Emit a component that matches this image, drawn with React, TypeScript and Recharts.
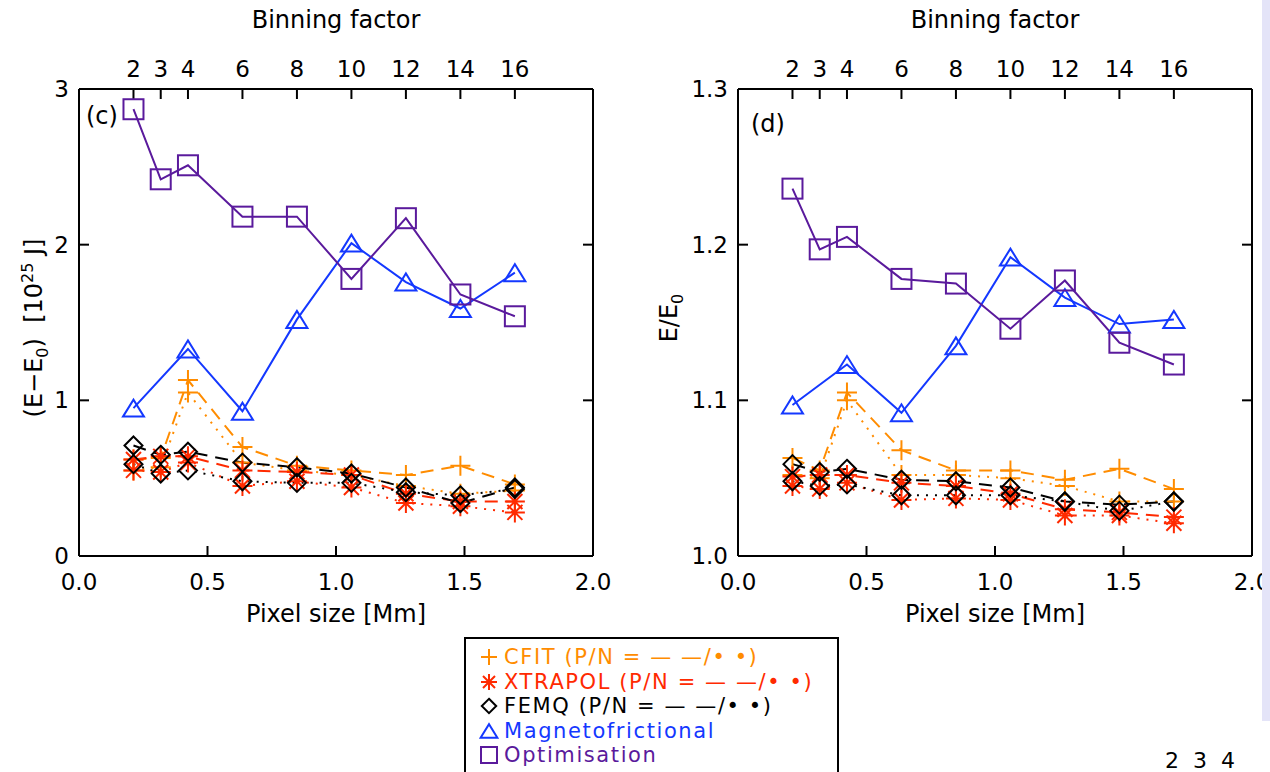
import React from 'react';
import { LineChart, Line, XAxis, YAxis } from 'recharts';

// ---------- data ----------
const binning = [2, 3, 4, 6, 8, 10, 12, 14, 16];
const pixelSize = [0.212, 0.318, 0.424, 0.636, 0.848, 1.06, 1.272, 1.484, 1.696];
const xTicks = [0, 0.5, 1, 1.5, 2];
const yTicksC = [0, 1, 2, 3];
const yTicksD = [1.0, 1.1, 1.2, 1.3];

// panel (c): E - E0 [1e25 J]
const cCfitP = [0.62, 0.63, 1.13, 0.70, 0.58, 0.55, 0.52, 0.58, 0.46];
const cCfitN = [0.55, 0.57, 1.05, 0.60, 0.55, 0.52, 0.45, 0.40, 0.42];
const cXtraP = [0.62, 0.64, 0.64, 0.55, 0.54, 0.52, 0.40, 0.35, 0.35];
const cXtraN = [0.55, 0.54, 0.60, 0.45, 0.48, 0.44, 0.34, 0.32, 0.28];
const cFemqP = [0.71, 0.65, 0.67, 0.60, 0.57, 0.53, 0.44, 0.34, 0.44];
const cFemqN = [0.59, 0.53, 0.55, 0.48, 0.47, 0.47, 0.41, 0.39, 0.43];
const cMagneto = [0.95, null, 1.33, 0.93, 1.52, 2.01, 1.76, 1.59, 1.82];
const cOptim = [2.87, 2.42, 2.51, 2.18, 2.18, 1.78, 2.17, 1.68, 1.54];

// panel (d): E / E0
const dCfitP = [1.063, 1.055, 1.105, 1.068, 1.055, 1.055, 1.049, 1.056, 1.043];
const dCfitN = [1.052, 1.050, 1.100, 1.052, 1.052, 1.050, 1.045, 1.035, 1.035];
const dXtraP = [1.051, 1.052, 1.052, 1.047, 1.045, 1.040, 1.030, 1.028, 1.025];
const dXtraN = [1.045, 1.043, 1.047, 1.036, 1.037, 1.036, 1.026, 1.026, 1.021];
const dFemqP = [1.059, 1.054, 1.056, 1.049, 1.048, 1.044, 1.035, 1.033, 1.035];
const dFemqN = [1.048, 1.045, 1.046, 1.039, 1.039, 1.039, 1.035, 1.029, 1.035];
const dMagneto = [1.097, null, 1.123, 1.092, 1.135, 1.192, 1.166, 1.149, 1.152];
const dOptim = [1.236, 1.197, 1.205, 1.178, 1.175, 1.146, 1.177, 1.137, 1.123];

// ---------- styling ----------
const FONT = '"DejaVu Sans", sans-serif';
const ORANGE = '#ff8c00';
const RED = '#ff2a00';
const BLACK = '#000000';
const BLUE = '#1438ff';
const PURPLE = '#5a1a9c';
const DASH = '13 8';
const DOT = '2 7';

type Kind = 'plus' | 'star' | 'diamond' | 'triangle' | 'square';

const series: { key: string; color: string; dash?: string; kind: Kind }[] = [
  { key: 'cfitP', color: ORANGE, dash: DASH, kind: 'plus' },
  { key: 'cfitN', color: ORANGE, dash: DOT, kind: 'plus' },
  { key: 'xtraP', color: RED, dash: DASH, kind: 'star' },
  { key: 'xtraN', color: RED, dash: DOT, kind: 'star' },
  { key: 'femqP', color: BLACK, dash: DASH, kind: 'diamond' },
  { key: 'femqN', color: BLACK, dash: DOT, kind: 'diamond' },
  { key: 'mf', color: BLUE, kind: 'triangle' },
  { key: 'opt', color: PURPLE, kind: 'square' },
];

function markerShape(kind: Kind, cx: number, cy: number, color: string, key: string, s = 1) {
  const common = { stroke: color, strokeWidth: 2, fill: 'none', strokeDasharray: 'none' } as any;
  switch (kind) {
    case 'plus': {
      const r = 10 * s;
      return <path key={key} d={`M${cx - r},${cy}H${cx + r}M${cx},${cy - r}V${cy + r}`} {...common} />;
    }
    case 'star': {
      const r = 10 * s, d = 7.5 * s;
      return (
        <path
          key={key}
          d={`M${cx - r},${cy}H${cx + r}M${cx},${cy - r}V${cy + r}M${cx - d},${cy - d}L${cx + d},${cy + d}M${cx - d},${cy + d}L${cx + d},${cy - d}`}
          {...common}
        />
      );
    }
    case 'diamond': {
      const r = 9 * s;
      return <polygon key={key} points={`${cx},${cy - r} ${cx + r},${cy} ${cx},${cy + r} ${cx - r},${cy}`} {...common} />;
    }
    case 'triangle': {
      const w = 10.5 * s, h = 8.5 * s;
      return <polygon key={key} points={`${cx - w},${cy + h} ${cx},${cy - h} ${cx + w},${cy + h}`} {...common} />;
    }
    case 'square':
    default: {
      const r = 10 * s;
      return <rect key={key} x={cx - r} y={cy - r} width={2 * r} height={2 * r} {...common} />;
    }
  }
}

const makeDot = (kind: Kind, color: string, sKey: string) => (props: any) => {
  const { cx, cy, index, value } = props;
  const key = `${sKey}-${index}`;
  if (cx == null || cy == null || value == null || Number.isNaN(cx) || Number.isNaN(cy)) return <g key={key} />;
  return markerShape(kind, cx, cy, color, key);
};

function buildRows(cols: Record<string, (number | null)[]>) {
  return pixelSize.map((x, i) => {
    const row: any = { x };
    Object.keys(cols).forEach((k) => {
      row[k] = cols[k][i];
    });
    return row;
  });
}

const dataC = buildRows({ cfitP: cCfitP, cfitN: cCfitN, xtraP: cXtraP, xtraN: cXtraN, femqP: cFemqP, femqN: cFemqN, mf: cMagneto, opt: cOptim });
const dataD = buildRows({ cfitP: dCfitP, cfitN: dCfitN, xtraP: dXtraP, xtraN: dXtraN, femqP: dFemqP, femqN: dFemqN, mf: dMagneto, opt: dOptim });

const axisLine = { stroke: '#000', strokeWidth: 2 };
const tickLine = { stroke: '#000', strokeWidth: 2 };
const tickStyle = { fill: '#000', fontSize: 23, fontFamily: FONT };

// plot area inside each 640-high chart: top 89, bottom 556; left 79
function Panel({ data, width, marginRight, yDomain, yTicks, yFmt }: any) {
  return (
    <LineChart width={width} height={640} data={data} margin={{ top: 59, right: marginRight - 10, bottom: 54, left: 39 }}>
      <XAxis
        dataKey="x"
        type="number"
        domain={[0, 2]}
        ticks={xTicks}
        interval={0}
        allowDataOverflow
        height={30}
        tickSize={-10}
        tickMargin={28}
        tickFormatter={(v: number) => v.toFixed(1)}
        axisLine={axisLine}
        tickLine={tickLine}
        tick={tickStyle}
      />
      <XAxis
        xAxisId="top"
        orientation="top"
        dataKey="x"
        type="number"
        domain={[0, 2]}
        ticks={pixelSize}
        interval={0}
        allowDataOverflow
        height={30}
        tickSize={-10}
        tickMargin={22}
        tickFormatter={(v: number) => String(binning[pixelSize.indexOf(v)])}
        axisLine={axisLine}
        tickLine={tickLine}
        tick={tickStyle}
      />
      <YAxis
        type="number"
        domain={yDomain}
        ticks={yTicks}
        interval={0}
        allowDataOverflow
        width={40}
        tickSize={-10}
        tickMargin={20}
        tickFormatter={yFmt}
        axisLine={axisLine}
        tickLine={tickLine}
        tick={tickStyle}
      />
      <YAxis
        yAxisId="r"
        orientation="right"
        type="number"
        domain={yDomain}
        ticks={yTicks}
        interval={0}
        allowDataOverflow
        width={10}
        tickSize={-10}
        tickFormatter={() => ''}
        axisLine={axisLine}
        tickLine={tickLine}
        tick={tickStyle}
      />
      {series.map((s) => (
        <Line
          key={s.key}
          dataKey={s.key}
          type="linear"
          stroke={s.color}
          strokeWidth={2}
          strokeDasharray={s.dash}
          connectNulls
          isAnimationActive={false}
          dot={makeDot(s.kind, s.color, s.key)}
          activeDot={false}
        />
      ))}
    </LineChart>
  );
}

function LegendSymbol({ kind, color }: { kind: Kind; color: string }) {
  return (
    <svg width={20} height={20} style={{ display: 'inline-block', verticalAlign: 'middle', marginRight: 5 }}>
      {markerShape(kind, 10, 10, color, 'l', 0.8)}
    </svg>
  );
}

const legendRows: { kind: Kind; color: string; text: string }[] = [
  { kind: 'plus', color: ORANGE, text: 'CFIT (P/N = — —/• •)' },
  { kind: 'star', color: RED, text: 'XTRAPOL (P/N = — —/• •)' },
  { kind: 'diamond', color: BLACK, text: 'FEMQ (P/N = — —/• •)' },
  { kind: 'triangle', color: BLUE, text: 'Magnetofrictional' },
  { kind: 'square', color: PURPLE, text: 'Optimisation' },
];

const abs = (left: number, top: number, extra: any = {}) => ({ position: 'absolute', left, top, ...extra } as any);
const titleStyle = { fontSize: 24, lineHeight: '28px' };

export default function App() {
  return (
    <div style={{ position: 'fixed', left: 0, top: 0, width: 1270, height: 772, background: '#fff', overflow: 'hidden', fontFamily: FONT, color: '#000' }}>
      <div style={abs(0, 0, { width: 640, height: 640 })}>
        <Panel data={dataC} width={640} marginRight={47} yDomain={[0, 3]} yTicks={yTicksC} yFmt={(v: number) => String(v)} />
      </div>
      <div style={abs(659, 0, { width: 611, height: 640 })}>
        <Panel data={dataD} width={611} marginRight={18} yDomain={[1.0, 1.3]} yTicks={yTicksD} yFmt={(v: number) => v.toFixed(1)} />
      </div>

      {/* axis titles */}
      <div style={abs(136, 6, { width: 400, textAlign: 'center', ...titleStyle })}>Binning factor</div>
      <div style={abs(795, 6, { width: 400, textAlign: 'center', ...titleStyle })}>Binning factor</div>
      <div style={abs(136, 600, { width: 400, textAlign: 'center', ...titleStyle })}>Pixel size [Mm]</div>
      <div style={abs(795, 600, { width: 400, textAlign: 'center', ...titleStyle })}>Pixel size [Mm]</div>

      <div style={abs(28 - 160, 328 - 15, { width: 320, height: 30, textAlign: 'center', fontSize: 24, lineHeight: '30px', transform: 'rotate(-90deg)', whiteSpace: 'pre' })}>
        (E−E<sub style={{ fontSize: 16 }}>0</sub>)  [10<sup style={{ fontSize: 16 }}>25</sup> J]
      </div>
      <div style={abs(669 - 60, 318 - 15, { width: 120, height: 30, textAlign: 'center', fontSize: 24, lineHeight: '30px', transform: 'rotate(-90deg)', whiteSpace: 'nowrap' })}>
        E/E<sub style={{ fontSize: 16 }}>0</sub>
      </div>

      {/* panel labels */}
      <div style={abs(86, 102, titleStyle)}>(c)</div>
      <div style={abs(751, 110, titleStyle)}>(d)</div>

      {/* legend */}
      <div style={abs(464, 637, { width: 375, height: 160, border: '2px solid #000', boxSizing: 'border-box', paddingTop: 5, paddingLeft: 13, background: '#fff' })}>
        {legendRows.map((r) => (
          <div key={r.text} style={{ height: 24.5, lineHeight: '24.5px', fontSize: 21, color: r.color, whiteSpace: 'pre' }}>
            <LegendSymbol kind={r.kind} color={r.color} />
            <span style={{ verticalAlign: 'middle', letterSpacing: 1.6 }}>{r.text}</span>
          </div>
        ))}
      </div>

      {/* neighbouring figure fragments */}
      <div style={abs(1262, 0, { width: 8, height: 721, background: '#e4e4f8' })} />
      <div style={abs(1165, 750, { fontSize: 22, lineHeight: '22px', whiteSpace: 'pre' })}>2  3  4</div>
    </div>
  );
}
